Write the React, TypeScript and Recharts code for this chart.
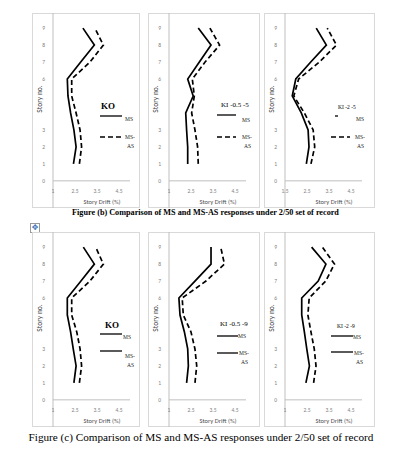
import React from 'react';
import { LineChart, Line, XAxis, YAxis, Legend, ReferenceLine } from 'recharts';

const stories = [1, 2, 3, 4, 5, 6, 7, 8, 9];
const storyTicks = [0, 1, 2, 3, 6, 7, 8, 9];
const driftTicks = [1.5, 2.5, 3.5, 4.5];
const driftLabels = ['1', '2.5', '3.5', '4.5'];
const driftLabelsAlt = ['1.5', '2.5', '3.5', '4.5'];
const seriesNames = ['MS', 'MS-AS'];
const panelTitles = ['KO', 'KI -0.5 -5', 'KI -2 -5', 'KO', 'KI -0.5 -9', 'KI -2 -9'];

// figure (b), story 1 -> 9
const msKO_b = [2.43, 2.55, 2.45, 2.3, 2.18, 2.15, 2.76, 3.38, 2.86];
const msasKO_b = [2.7, 2.8, 2.73, 2.55, 2.35, 2.35, 3.18, 3.79, 3.4];
const msKI05_b = [2.35, 2.35, 2.3, 2.26, 2.6, 2.35, 2.88, 3.41, 2.83];
const msasKI05_b = [2.83, 2.8, 2.68, 2.53, 2.65, 2.56, 3.14, 3.8, 3.36];
const msKI2_b = [2.47, 2.59, 2.55, 2.24, 1.83, 1.99, 2.67, 3.38, 2.92];
const msasKI2_b = [2.68, 2.85, 2.78, 2.38, 1.9, 2.12, 3.06, 3.84, 3.42];

// figure (c)
const msKO_c = [2.45, 2.55, 2.42, 2.3, 2.15, 2.15, 2.77, 3.38, 2.88];
const msasKO_c = [2.7, 2.8, 2.73, 2.58, 2.35, 2.35, 3.18, 3.79, 3.44];
const msKI05_c = [2.3, 2.38, 2.35, 2.2, 2.0, 1.95, 2.68, 3.41, 3.41];
const msasKI05_c = [2.68, 2.76, 2.68, 2.5, 2.15, 2.1, 3.18, 4.02, 3.85];
const msKI2_c = [2.45, 2.61, 2.49, 2.38, 2.26, 2.26, 3.01, 3.36, 2.71];
const msasKI2_c = [2.8, 2.91, 2.83, 2.68, 2.54, 2.6, 3.35, 3.75, 3.2];

const captionB = 'Figure (b) Comparison of MS and MS-AS responses under 2/50 set of record';
const captionC = 'Figure (c) Comparison of MS and MS-AS responses under 2/50 set of record';

const SANS = "Carlito, 'Liberation Sans', Arial, sans-serif";
const SERIF = "'Liberation Serif', 'Times New Roman', serif";
const H = 195;

const toRows = (ms: number[], msas: number[]) =>
  stories.map((s, i) => ({ story: s, ms: ms[i], msas: msas[i] }));

type LegendPos = {
  tx: number; ty: number; tSize: number; bold?: boolean;
  l1: number[]; m1: number[]; l2: number[]; m2: number[];
  dashed2: boolean;
};

const StoryLabel = (props: any) => {
  const vb = props.viewBox || { x: 0, y: 0, width: 21, height: H };
  const cx = vb.x + 7;
  const cy = 86;
  return (
    <text x={cx} y={cy} transform={`rotate(-90, ${cx}, ${cy})`} textAnchor="middle"
      dominantBaseline="central" fontSize={7.5} fill="#404040" fontFamily={SANS}>
      Story no.
    </text>
  );
};

const DriftLabel = (props: any) => {
  const vb = props.viewBox || { x: 21, y: H - 1, width: 77, height: 1 };
  return (
    <text x={vb.x + 49} y={vb.y - 3} textAnchor="middle" fontSize={6.5} fill="#505050" fontFamily={SANS}>
      Story Drift (%)
    </text>
  );
};

const makeLegend = (title: string, pos: LegendPos, w: number) => (props: any) => {
  const payload = props.payload || [];
  const n1 = payload[0]?.value ?? seriesNames[0];
  const n2 = String(payload[1]?.value ?? seriesNames[1]);
  const parts = n2.split('-');
  return (
    <svg width={w} height={H} style={{ position: 'absolute', left: 0, top: 0, overflow: 'visible' }}>
      <text x={pos.tx} y={pos.ty} dominantBaseline="central" fontSize={pos.tSize}
        fontWeight={pos.bold ? 'bold' : 'normal'} fontFamily={SERIF} fill="#000">
        {title}
      </text>
      <line x1={pos.l1[0]} x2={pos.l1[1]} y1={pos.l1[2]} y2={pos.l1[2]} stroke="#000" strokeWidth={1.3} />
      <text x={pos.m1[0]} y={pos.m1[1]} dominantBaseline="central" fontSize={5.5} fontFamily={SERIF} fill="#222">{n1}</text>
      <line x1={pos.l2[0]} x2={pos.l2[1]} y1={pos.l2[2]} y2={pos.l2[2]} stroke="#000" strokeWidth={1.3}
        strokeDasharray={pos.dashed2 ? '5 3' : undefined} />
      <text x={pos.m2[0]} y={pos.m2[1]} dominantBaseline="central" fontSize={5.5} fontFamily={SERIF} fill="#222">{parts[0] + '-'}</text>
      <text x={pos.m2[0] + 2} y={pos.m2[1] + 8.5} dominantBaseline="central" fontSize={5.5} fontFamily={SERIF} fill="#222">{parts[1]}</text>
    </svg>
  );
};

type PanelProps = {
  left: number; top: number; w: number; title: string;
  ms: number[]; msas: number[]; labels: string[]; legend: LegendPos;
};

const Panel = ({ left, top, w, title, ms, msas, labels, legend }: PanelProps) => {
  const data = toRows(ms, msas);
  return (
    <div style={{ position: 'absolute', left, top, width: w, height: H }}>
      <div style={{ position: 'absolute', left: 0, top: 0, width: w, height: H, border: '1px solid #d9d9d9', boxSizing: 'border-box' }} />
      <LineChart layout="vertical" width={w} height={H} data={data}
        margin={{ top: 0, right: w - 98, bottom: 0, left: 0 }}>
        <XAxis type="number" domain={[1.5, 5]} ticks={driftTicks} allowDataOverflow height={1} mirror
          axisLine={false} tickLine={false} tickSize={14} tickMargin={1} interval={0}
          tickFormatter={(v: number) => labels[driftTicks.indexOf(v)] ?? String(v)}
          tick={{ fontSize: 5.5, fill: '#7f7f7f', fontFamily: SANS }} label={DriftLabel} />
        <YAxis type="number" dataKey="story" domain={[-1.6, 9.89]} ticks={storyTicks} allowDataOverflow reversed
          width={21} axisLine={{ stroke: '#bfbfbf' }} tickLine={false} interval={0}
          tick={{ fontSize: 5.5, fill: '#7f7f7f', fontFamily: SANS }} label={StoryLabel} />
        <ReferenceLine y={0} stroke="#bfbfbf" />
        <Line dataKey="ms" name={seriesNames[0]} stroke="#000" strokeWidth={1.7} dot={false} isAnimationActive={false} />
        <Line dataKey="msas" name={seriesNames[1]} stroke="#000" strokeWidth={1.7} strokeDasharray="5 3" dot={false} isAnimationActive={false} />
        <Legend layout="horizontal" align="center" verticalAlign="middle"
          wrapperStyle={{ left: 0, top: 0, width: w, height: H }}
          content={makeLegend(title, legend, w)} />
      </LineChart>
    </div>
  );
};

const legendB: LegendPos[] = [
  { tx: 69, ty: 93, tSize: 9, bold: true, l1: [68, 90, 103], m1: [93, 106], l2: [68, 90, 124], m2: [93, 124], dashed2: true },
  { tx: 73, ty: 92, tSize: 7, l1: [69, 88, 102], m1: [94, 107], l2: [69, 88, 124], m2: [94, 124], dashed2: true },
  { tx: 74, ty: 94, tSize: 5.5, l1: [71, 74, 103], m1: [92, 106], l2: [67, 86, 124], m2: [91, 124], dashed2: true },
];
const legendC: LegendPos[] = [
  { tx: 73, ty: 93, tSize: 9, bold: true, l1: [68, 90, 102], m1: [91, 105], l2: [68, 90, 119], m2: [93, 124], dashed2: false },
  { tx: 72, ty: 92, tSize: 7, l1: [69, 90, 104], m1: [90, 104], l2: [69, 90, 121], m2: [91, 121], dashed2: false },
  { tx: 73, ty: 94, tSize: 5.5, l1: [67, 89, 104], m1: [89, 105], l2: [67, 89, 120], m2: [90, 121], dashed2: false },
];

export default function App() {
  return (
    <div style={{ position: 'absolute', left: 0, top: 0, width: 399, height: 455, background: '#fff', overflow: 'hidden' }}>
      <Panel left={32} top={13} w={108} title={panelTitles[0]} ms={msKO_b} msas={msasKO_b} labels={driftLabels} legend={legendB[0]} />
      <Panel left={148} top={13} w={112} title={panelTitles[1]} ms={msKI05_b} msas={msasKI05_b} labels={driftLabels} legend={legendB[1]} />
      <Panel left={264} top={13} w={111} title={panelTitles[2]} ms={msKI2_b} msas={msasKI2_b} labels={driftLabelsAlt} legend={legendB[2]} />
      <div style={{ position: 'absolute', left: 0, width: 411, top: 208, textAlign: 'center', fontFamily: SERIF, fontWeight: 'bold', fontSize: 8.2, color: '#000', whiteSpace: 'nowrap' }}>
        {captionB}
      </div>
      <div style={{ position: 'absolute', left: 30, top: 223, width: 8, height: 8, border: '1px solid #9a9a9a', fontSize: 8, lineHeight: '8px', textAlign: 'center', color: '#3a6fb5', fontFamily: "'DejaVu Sans', sans-serif" }}>
        ✥
      </div>
      <Panel left={32} top={232} w={108} title={panelTitles[3]} ms={msKO_c} msas={msasKO_c} labels={driftLabels} legend={legendC[0]} />
      <Panel left={148} top={232} w={112} title={panelTitles[4]} ms={msKI05_c} msas={msasKI05_c} labels={driftLabels} legend={legendC[1]} />
      <Panel left={264} top={232} w={111} title={panelTitles[5]} ms={msKI2_c} msas={msasKI2_c} labels={driftLabels} legend={legendC[2]} />
      <div style={{ position: 'absolute', left: 0, width: 402, top: 431, textAlign: 'center', fontFamily: SERIF, fontSize: 11.2, color: '#000', whiteSpace: 'nowrap' }}>
        {captionC}
      </div>
    </div>
  );
}
